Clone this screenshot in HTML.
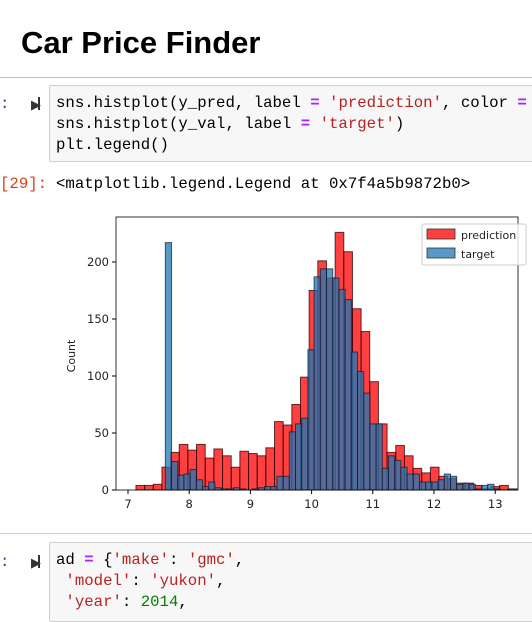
<!DOCTYPE html>
<html><head><meta charset="utf-8"><style>
body{margin:0;width:532px;height:610px;overflow:hidden;background:#fff;font-family:"Liberation Sans",sans-serif;position:relative}
.abs{position:absolute}
.code{font-family:"Liberation Mono",monospace;font-size:15.7px;line-height:21px;white-space:pre;color:#000}
.box{background:#f7f7f7;border:1px solid #cfcfcf;border-radius:2px}
.s{color:#ba2121}.o{color:#aa22ff;font-weight:bold}.n{color:#008000}
.prompt{font-family:"Liberation Mono",monospace;font-size:15.7px;color:#303f9f}
</style></head><body>
<div class="abs" style="left:21px;top:25px;font-size:31px;font-weight:bold">Car Price Finder</div>
<div class="abs" style="left:0;top:77px;width:532px;height:1px;background:#bdbdbd"></div>
<div class="abs prompt" style="left:0;top:95px">:</div>
<div class="abs" style="left:31px;top:97px;font-size:13px;color:#333">&#9654;</div>
<div class="abs" style="left:38px;top:97px;width:2px;height:13px;background:#333"></div>
<div class="abs box code" style="left:49px;top:85px;width:490px;height:77px;padding:7px 0 0 6px;box-sizing:border-box">sns.histplot(y_pred, label <span class="o">=</span> <span class="s">'prediction'</span>, color <span class="o">=</span>
sns.histplot(y_val, label <span class="o">=</span> <span class="s">'target'</span>)
plt.legend()</div>
<div class="abs prompt" style="left:0;top:175px;color:#d84315">[29]:</div>
<div class="abs code" style="left:56px;top:174px">&lt;matplotlib.legend.Legend at 0x7f4a5b9872b0&gt;</div>
<svg class="abs" style="left:0;top:200px" width="532" height="320" id="chart"></svg>
<div class="abs" style="left:0;top:533px;width:532px;height:1px;background:#cfcfcf"></div>
<div class="abs prompt" style="left:0;top:553px">:</div>
<div class="abs" style="left:31px;top:555px;font-size:13px;color:#333">&#9654;</div>
<div class="abs" style="left:38px;top:555px;width:2px;height:13px;background:#333"></div>
<div class="abs box code" style="left:49px;top:542px;width:490px;height:80px;padding:7px 0 0 6px;box-sizing:border-box">ad <span class="o">=</span> {<span class="s">'make'</span>: <span class="s">'gmc'</span>,
 <span class="s">'model'</span>: <span class="s">'yukon'</span>,
 <span class="s">'year'</span>: <span class="n">2014</span>,</div>
<script>
const redStart=7.13, redWidth=0.1415;
const redCounts=[4,4,5,20,33,40,35,40,28,36,30,20,34,32,30,37,60,57,75,99,175,201,186,226,209,159,139,95,58,33,39,30,19,15,20,12,10,6,6,4,1,3,4,1];
const blueStart=7.61, blueWidth=0.1013;
const blueCounts=[217,25,13,14,18,9,3,7,2,1,1,2,1,0,1,2,3,3,12,12,51,58,63,123,187,194,194,186,176,167,121,104,85,58,58,19,30,26,20,14,14,7,7,7,9,14,12,5,6,5,1,4,5,1];
const xTicks=[7,8,9,10,11,12,13];
const yTicks=[0,50,100,150,200];
const legendLabels=['prediction','target'];
const NS='http://www.w3.org/2000/svg';
const svg=document.getElementById('chart');
const L=116,R=518,T=17,B=290;
const X=v=>128+(v-7)*61.2;
const Y=c=>B-c*1.14;
function mk(tag,attrs){const e=document.createElementNS(NS,tag);for(const k in attrs)e.setAttribute(k,attrs[k]);svg.appendChild(e);return e;}
redCounts.forEach((c,i)=>{const x0=X(redStart+i*redWidth),x1=X(redStart+(i+1)*redWidth);
 const r=mk('rect',{x:x0,y:Y(c),width:x1-x0,height:B-Y(c),fill:'rgba(255,0,0,0.75)',stroke:'rgba(40,0,0,0.75)','stroke-width':1});
 
 });
blueCounts.forEach((c,i)=>{const x0=X(blueStart+i*blueWidth),x1=X(blueStart+(i+1)*blueWidth);
 const r=mk('rect',{x:x0,y:Y(c),width:x1-x0,height:B-Y(c),fill:'rgba(31,119,180,0.75)',stroke:'rgba(20,20,40,0.7)','stroke-width':1});
 
 });
const fr=mk('rect',{x:L,y:T,width:R-L,height:B-T,fill:'none',stroke:'#000','stroke-width':0.8});


xTicks.forEach(v=>{mk('line',{x1:X(v),x2:X(v),y1:B,y2:B+4,stroke:'#000'});
 const t=mk('text',{x:X(v),y:B+18,'text-anchor':'middle','font-size':11.5,fill:'#222','font-family':'DejaVu Sans, sans-serif'});t.textContent=v;
 
 });
yTicks.forEach(v=>{mk('line',{x1:L-4,x2:L,y1:Y(v),y2:Y(v),stroke:'#000'});
 const t=mk('text',{x:L-7,y:Y(v)+4,'text-anchor':'end','font-size':11.5,fill:'#222','font-family':'DejaVu Sans, sans-serif'});t.textContent=v;
 
 });
const yl=mk('text',{x:75,y:156,'text-anchor':'middle','font-size':11,fill:'#222','font-family':'DejaVu Sans, sans-serif',transform:'rotate(-90 75 156)'});yl.textContent='Count';


const lg=mk('rect',{x:422,y:24,width:104,height:41,fill:'#fff','fill-opacity':0.8,stroke:'#ccc',rx:2});


const lc=['rgba(255,0,0,0.75)','rgba(31,119,180,0.75)'];
legendLabels.forEach((s,i)=>{mk('rect',{x:427,y:29+i*19,width:28,height:10,fill:lc[i],stroke:'#333','stroke-width':0.8});
 const t=mk('text',{x:461,y:39+i*19,'font-size':11,fill:'#222','font-family':'DejaVu Sans, sans-serif'});t.textContent=s;
 
 });
</script>
</body></html>
